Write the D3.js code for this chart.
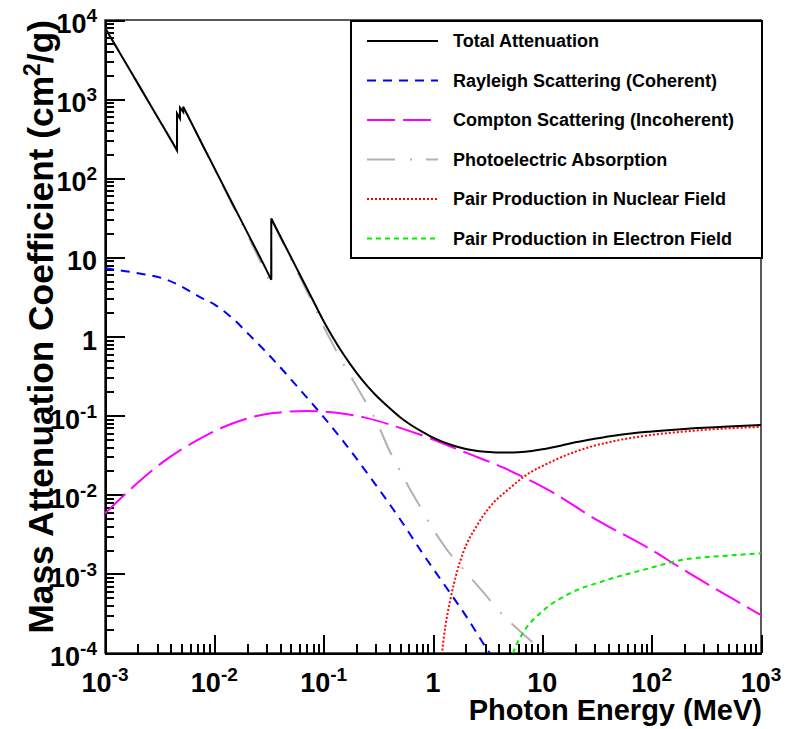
<!DOCTYPE html>
<meta charset="utf-8">
<style>
body { margin: 0; background: #fff; }
text { font-family: "Liberation Sans", Arial, Helvetica, sans-serif; font-weight: bold; fill: #000; }
.axis path, .axis line { stroke: #000; stroke-width: 2px; fill: none; shape-rendering: crispEdges; }
.axis text { display: none; }
</style>
<svg width="792" height="729"></svg>
<script src="https://d3js.org/d3.v7.min.js"></script>
<script>
// values: [energy MeV, mass attenuation cm2/g]
var total = [[1e-3, 8000], [1.5e-3, 3080], [2e-3, 1570], [3e-3, 605], [4e-3, 308],
  [4.557e-3, 226], [4.557e-3, 660], [4.852e-3, 570], [4.852e-3, 780], [5.188e-3, 690], [5.188e-3, 800],
  [6e-3, 540], [8e-3, 247], [0.01, 135], [0.015, 45], [0.02, 20.7], [0.03, 6.9],
  [0.03317, 5.2], [0.03317, 31], [0.04, 18.6], [0.05, 10.2], [0.06, 6.2], [0.08, 2.85],
  [0.1, 1.56], [0.12, 1.0], [0.15, 0.61], [0.2, 0.348], [0.25, 0.238], [0.3, 0.181], [0.4, 0.125],
  [0.5, 0.0955], [0.6, 0.0796], [0.8, 0.0624], [1, 0.0527], [1.5, 0.0422], [2, 0.0378], [3, 0.0349],
  [4, 0.0341], [5, 0.0341], [6, 0.0344], [8, 0.0357], [10, 0.0375], [15, 0.042], [20, 0.046],
  [30, 0.051], [50, 0.057], [100, 0.063], [200, 0.068], [500, 0.073], [1000, 0.076]];

var rayleigh = [[1e-3, 7.3], [2e-3, 6.3], [3.7e-3, 5.2], [5e-3, 4.3], [7.4e-3, 3.15], [0.01, 2.55],
  [0.015, 1.65], [0.021, 1.04], [0.03, 0.63], [0.05, 0.29], [0.07, 0.17], [0.092, 0.11],
  [0.15, 0.048], [0.25, 0.0188], [0.5, 0.0049], [0.79, 0.00188], [1, 0.00117], [1.44, 0.00057],
  [2, 0.000295], [3.3, 0.0001], [4, 0.00007]];

var compton = [[1e-3, 0.0058], [1.8e-3, 0.0125], [3.4e-3, 0.026], [7e-3, 0.049], [0.0148, 0.080],
  [0.0345, 0.108], [0.07, 0.114], [0.164, 0.104], [0.25, 0.093], [0.5, 0.070], [1, 0.050],
  [2, 0.034], [4.4, 0.022], [6.7, 0.0167], [12, 0.011], [30, 0.005], [100, 0.002],
  [182, 0.0012], [1000, 0.0003]];

var photo = [[1e-3, 7990], [1.5e-3, 3075], [2e-3, 1564], [3e-3, 600], [4e-3, 303],
  [4.557e-3, 221], [4.557e-3, 655], [4.852e-3, 565], [4.852e-3, 775], [5.188e-3, 685], [5.188e-3, 795],
  [6e-3, 535], [8e-3, 244], [0.01, 132], [0.015, 43], [0.02, 19.5], [0.03, 6.1],
  [0.03317, 4.5], [0.03317, 30.3], [0.04, 18], [0.05, 9.7], [0.06, 5.8], [0.08, 2.57],
  [0.1, 1.33], [0.12, 0.82], [0.15, 0.46], [0.2, 0.235], [0.25, 0.138], [0.3, 0.088], [0.4, 0.036],
  [0.5, 0.02], [0.6, 0.0125], [0.8, 0.0063], [1, 0.0037], [1.35, 0.002], [2, 0.00105], [3, 0.00055],
  [4, 0.00034], [5, 0.00025], [8, 0.00014], [10, 0.00011], [15, 0.00007]];

var pairNuclear = [[1.17, 0.00006], [1.21, 0.0001], [1.3, 0.00022], [1.44, 0.00047], [1.67, 0.0011],
  [1.9, 0.0019], [2.5, 0.004], [3.3, 0.007], [5, 0.012], [6.7, 0.0167], [12, 0.026], [20, 0.035],
  [50, 0.049], [100, 0.057], [200, 0.063], [500, 0.069], [1000, 0.072]];

var pairElectron = [[4.8, 0.00006], [5.4, 0.0001], [7, 0.0002], [9.6, 0.00032], [19, 0.00059],
  [34, 0.00079], [100, 0.0012], [182, 0.00149], [500, 0.0017], [1000, 0.00182]];

var xExponents = [-3, -2, -1, 0, 1, 2, 3];
var yExponents = [-4, -3, -2, -1, 0, 1, 2, 3, 4];

var series = [
  {name: "Total Attenuation", data: total, color: "#000000", dash: null},
  {name: "Rayleigh Scattering (Coherent)", data: rayleigh, color: "#0000ff", dash: "9,7"},
  {name: "Compton Scattering (Incoherent)", data: compton, color: "#ff00ff", dash: "28,8"},
  {name: "Photoelectric Absorption", data: photo, color: "#b9b1a9", dash: "28,15,2,14"},
  {name: "Pair Production in Nuclear Field", data: pairNuclear, color: "#ff0000", dash: "2,2"},
  {name: "Pair Production in Electron Field", data: pairElectron, color: "#00ee00", dash: "5,4"}
];

var svg = d3.select("svg"),
    margin = {top: 20, right: 31, bottom: 76, left: 105},
    width = +svg.attr("width") - margin.left - margin.right,
    height = +svg.attr("height") - margin.top - margin.bottom,
    g = svg.append("g").attr("transform", "translate(" + margin.left + "," + margin.top + ")");

var x = d3.scaleLog().domain([1e-3, 1e3]).range([0, width]);
var y = d3.scaleLog().domain([1e-4, 1e4]).range([height, 0]);

g.append("clipPath").attr("id", "clip")
  .append("rect").attr("width", width).attr("height", height);

// frame
g.append("rect")
    .attr("width", width)
    .attr("height", height)
    .attr("fill", "none")
    .attr("stroke", "#222")
    .attr("stroke-width", 1.5);

var xMajor = xExponents.map(function(p) { return Math.pow(10, p); });
var yMajor = yExponents.map(function(p) { return Math.pow(10, p); });
function minors(majors) {
  var out = [];
  majors.slice(0, -1).forEach(function(d) { for (var k = 2; k < 10; k++) out.push(d * k); });
  return out;
}

g.append("g").attr("class", "axis").attr("transform", "translate(0," + height + ")")
    .call(d3.axisBottom(x).tickValues(minors(xMajor)).tickSize(-9).tickSizeOuter(0).tickFormat(""));
g.append("g").attr("class", "axis").attr("transform", "translate(0," + height + ")")
    .call(d3.axisBottom(x).tickValues(xMajor).tickSize(-18).tickSizeOuter(0).tickFormat(""));
g.append("g").attr("class", "axis")
    .call(d3.axisLeft(y).tickValues(minors(yMajor)).tickSize(-9).tickSizeOuter(0).tickFormat(""));
g.append("g").attr("class", "axis")
    .call(d3.axisLeft(y).tickValues(yMajor).tickSize(-20).tickSizeOuter(0).tickFormat(""));

function powLabel(t, p) {
  if (p === 0) { t.text("1"); return; }
  if (p === 1) { t.text("10"); return; }
  t.append("tspan").text("10");
  t.append("tspan").attr("dy", -11).style("font-size", "19px").text(p);
}

g.selectAll(".xlab").data(xExponents).enter().append("text")
    .attr("class", "xlab")
    .attr("x", function(p) { return x(Math.pow(10, p)); })
    .attr("y", height + 39)
    .attr("text-anchor", "middle")
    .style("font-size", "27px")
    .each(function(p) { powLabel(d3.select(this), p); });

g.selectAll(".ylab").data(yExponents).enter().append("text")
    .attr("class", "ylab")
    .attr("x", -8)
    .attr("y", function(p) { return y(Math.pow(10, p)) + 13; })
    .attr("text-anchor", "end")
    .style("font-size", "27px")
    .each(function(p) { powLabel(d3.select(this), p); });

// curves (monotone per piece, pieces joined at the absorption edges)
var line = d3.line()
    .x(function(d) { return x(d[0]); })
    .y(function(d) { return y(d[1]); })
    .curve(d3.curveMonotoneX);

function pathFor(data) {
  var pieces = [], cur = [];
  data.forEach(function(d, i) {
    if (i > 0 && d[0] === data[i - 1][0]) { pieces.push(cur); cur = []; }
    cur.push(d);
  });
  pieces.push(cur);
  return pieces.map(function(p, i) {
    var s = line(p);
    return i === 0 ? s : "L" + s.slice(1);
  }).join("");
}

var curves = g.append("g").attr("clip-path", "url(#clip)");
series.slice(1).concat([series[0]]).forEach(function(s) {
  curves.append("path")
      .attr("d", pathFor(s.data))
      .attr("fill", "none")
      .attr("stroke", s.color)
      .attr("stroke-width", 2)
      .attr("stroke-dasharray", s.dash);
});

// axis titles
svg.append("text")
    .attr("x", margin.left + width + 1)
    .attr("y", 720)
    .attr("text-anchor", "end")
    .style("font-size", "29px")
    .text("Photon Energy (MeV)");

var yt = svg.append("text")
    .attr("transform", "translate(53," + margin.top + ") rotate(-90)")
    .attr("text-anchor", "end")
    .style("font-size", "35.3px");
yt.append("tspan").text("Mass Attenuation Coefficient (cm");
yt.append("tspan").attr("dy", -13).style("font-size", "23px").text("2");
yt.append("tspan").attr("dy", 13).text("/g)");

// legend
var legend = svg.append("g").attr("transform", "translate(351,21)");
legend.append("rect")
    .attr("width", 411)
    .attr("height", 237)
    .attr("fill", "#fff")
    .attr("stroke", "#000")
    .attr("stroke-width", 2);

var rows = legend.selectAll("g").data(series).enter().append("g")
    .attr("transform", function(d, i) { return "translate(0," + (20 + i * 39.5) + ")"; });
rows.append("line")
    .attr("x1", 16).attr("x2", 87)
    .attr("stroke", function(d) { return d.color; })
    .attr("stroke-width", 2)
    .attr("stroke-dasharray", function(d) { return d.dash; });
rows.append("text")
    .attr("x", 102)
    .attr("y", 6.3)
    .style("font-size", "18px")
    .text(function(d) { return d.name; });
</script>
